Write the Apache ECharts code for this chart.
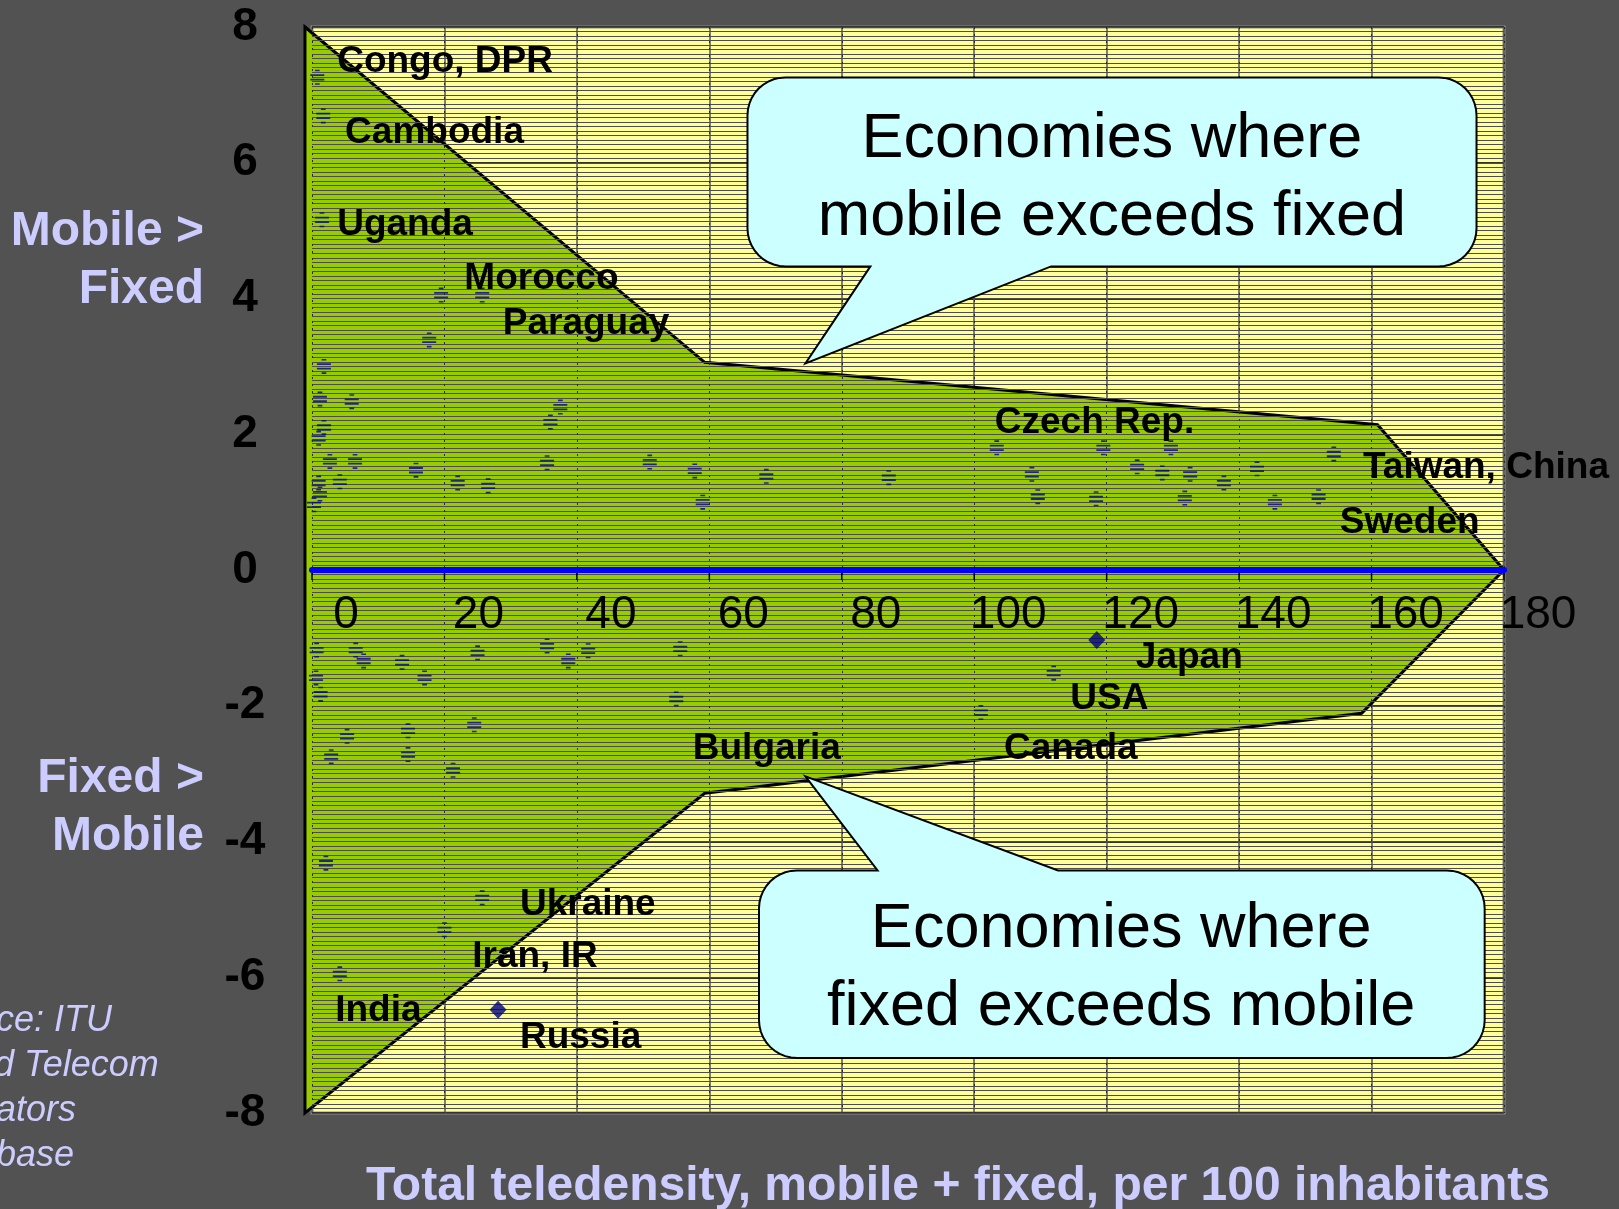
<!DOCTYPE html>
<html><head><meta charset="utf-8">
<script src="https://cdn.jsdelivr.net/npm/echarts@6/dist/echarts.min.js"></script>
<style>html,body{margin:0;padding:0;background:#525252;} #c{width:1619px;height:1209px;}</style>
</head><body><div id="c"></div>
<script>
// ---------- data ----------
const xTicks = [0, 20, 40, 60, 80, 100, 120, 140, 160, 180];
const yTicks = [-8, -6, -4, -2, 0, 2, 4, 6, 8];
// boundary of the shaded zone (x = total teledensity, y = mobile/fixed gap)
const upperEdge = [[-1.06, 8], [59.3, 3.06], [160.9, 2.14], [180, 0]];
const lowerEdge = [[158.5, -2.11], [59.3, -3.29], [-1.06, -8]];
// economies (small markers)
const economiesUpper = [[0.8,7.26],[1.7,6.69],[1.5,5.16],[19.5,4.05],[25.7,4.05],[17.7,3.39],[1.8,3.0],[1.2,2.52],[6.0,2.48],[37.5,2.4],[36.0,2.18],[1.8,2.1],[1.0,1.94],[2.7,1.6],[6.5,1.6],[15.7,1.47],[35.5,1.58],[51.0,1.59],[57.8,1.46],[1.0,1.28],[4.2,1.3],[22.0,1.28],[26.6,1.24],[1.2,1.12],[0.3,0.96],[59.0,1.0],[68.6,1.38],[87.1,1.36],[103.4,1.8],[108.7,1.41],[109.6,1.08],[119.5,1.8],[118.4,1.05],[124.6,1.52],[129.7,1.8],[128.4,1.43],[132.6,1.41],[137.7,1.28],[131.8,1.06],[142.7,1.49],[145.4,1.0],[154.3,1.71],[152.0,1.08]];
const economiesLower = [[0.7,-1.18],[6.6,-1.18],[7.8,-1.34],[13.6,-1.36],[25.0,-1.22],[35.5,-1.12],[38.7,-1.34],[41.7,-1.19],[55.6,-1.16],[0.6,-1.59],[17.0,-1.59],[1.3,-1.83],[55.0,-1.9],[24.5,-2.28],[5.3,-2.45],[14.5,-2.37],[2.9,-2.75],[14.5,-2.72],[21.3,-2.95],[2.1,-4.32],[25.7,-4.83],[20.0,-5.3],[4.2,-5.95],[112.0,-1.52],[101.0,-2.1]];
// highlighted economies (Japan, Russia)
const highlighted = [[118.5, -1.03], [28.1, -6.48]];
// country names and anchor (left edge, middle)
const labelNames = ['Congo, DPR','Cambodia','Uganda','Morocco','Paraguay','Czech Rep.','Taiwan, China','Sweden','Japan','USA','Bulgaria','Canada','Ukraine','Iran, IR','India','Russia'];
const labelX = [3.8, 5.0, 3.8, 23.0, 28.8, 103.1, 158.7, 155.2, 124.4, 114.5, 57.5, 104.5, 31.4, 24.2, 3.5, 31.4];
const labelY = [7.53, 6.48, 5.13, 4.33, 3.67, 2.21, 1.55, 0.74, -1.25, -1.86, -2.59, -2.59, -4.89, -5.66, -6.45, -6.85];
// callouts
const calloutText = ['Economies where\nmobile exceeds fixed', 'Economies where\nfixed exceeds mobile'];
const calloutBox = [[65.76, 175.85, 4.473, 7.257], [67.5, 177.08, -7.19, -4.426]]; // x0,x1,y0,y1
const calloutTail = [[84.32, 111.6, 74.51, 3.044], [85.41, 112.65, 74.51, -3.041]]; // base x0, base x1, tip x, tip y
const calloutCenter = [[120.8, 5.76], [122.2, -5.87]];

const FONT = '"Liberation Sans", Arial, sans-serif';
const LAV = '#CCCCFF';

const chart = echarts.init(document.getElementById('c'), null, {renderer: 'canvas'});

function bubble(params, api) {
  const i = params.dataIndex;
  const b = calloutBox[i], t = calloutTail[i];
  const tl = api.coord([b[0], b[3]]), br = api.coord([b[1], b[2]]);
  const L = tl[0], T = tl[1], R = br[0], B = br[1];
  const r = 38;
  const tb0 = api.coord([t[0], 0])[0], tb1 = api.coord([t[1], 0])[0];
  const tip = api.coord([t[2], t[3]]);
  const tipBelow = tip[1] > B;
  const pts = [];
  function arc(cx, cy, a0, a1) {
    for (let k = 0; k <= 10; k++) { const a = a0 + (a1 - a0) * k / 10; pts.push([cx + r * Math.cos(a), cy + r * Math.sin(a)]); }
  }
  arc(L + r, T + r, Math.PI, 1.5 * Math.PI);
  if (!tipBelow) { pts.push([tb0, T]); pts.push(tip); pts.push([tb1, T]); }
  arc(R - r, T + r, 1.5 * Math.PI, 2 * Math.PI);
  arc(R - r, B - r, 0, 0.5 * Math.PI);
  if (tipBelow) { pts.push([tb1, B]); pts.push(tip); pts.push([tb0, B]); }
  arc(L + r, B - r, 0.5 * Math.PI, Math.PI);
  const c = api.coord(calloutCenter[i]);
  return {
    type: 'group',
    children: [
      {type: 'polygon', shape: {points: pts}, style: {fill: '#CCFFFF', stroke: '#000', lineWidth: 2}},
      {type: 'text', x: c[0], y: c[1], style: {text: calloutText[i], fontSize: 63, fontFamily: FONT, fill: '#000', align: 'center', verticalAlign: 'middle', lineHeight: 78}}
    ]
  };
}

const option = {
  backgroundColor: '#525252',
  animation: false,
  grid: {left: 312, right: 115, top: 27, bottom: 96, show: true, backgroundColor: '#FFFF99', borderColor: '#8a8a8a', borderWidth: 3, containLabel: false, outerBoundsMode: 'none'},
  xAxis: [
    {type: 'value', min: xTicks[0], max: xTicks[xTicks.length - 1], interval: 20, position: 'top', z: 0,
      axisLine: {show: false, onZero: false}, axisTick: {show: false}, axisLabel: {show: false},
      splitLine: {show: true, lineStyle: {color: '#555', width: 1.5}}},
    {type: 'value', min: xTicks[0], max: xTicks[xTicks.length - 1], interval: 20, position: 'bottom', z: 6,
      axisLine: {show: true, onZero: true, lineStyle: {color: '#0000FF', width: 6}},
      axisTick: {show: false}, axisLabel: {show: false},
      splitLine: {show: true, lineStyle: {color: '#2a2a2a', width: 1, type: [2, 5]}}}
  ],
  yAxis: [
    {type: 'value', min: yTicks[0], max: yTicks[yTicks.length - 1], interval: 2, position: 'left', z: 0,
      axisLine: {show: false, onZero: false}, axisTick: {show: false},
      axisLabel: {color: '#000', fontSize: 46, fontWeight: 'bold', fontFamily: FONT, margin: 67, align: 'center'},
      splitLine: {show: true, lineStyle: {color: '#333', width: 2}}},
    {type: 'value', min: yTicks[0], max: yTicks[yTicks.length - 1], interval: 2, position: 'right', z: 4,
      axisLine: {show: false, onZero: false}, axisTick: {show: false}, axisLabel: {show: false},
      splitLine: {show: true, lineStyle: {color: '#4d4d4d', width: 1}},
      minorTick: {show: false, splitNumber: 30},
      minorSplitLine: {show: true, lineStyle: {color: '#4d4d4d', width: 1}}}
  ],
  series: [
    {type: 'custom', name: 'zone', z: 2, silent: true, xAxisIndex: 0, yAxisIndex: 0, clip: false,
      data: [[0, 0]],
      renderItem: function (params, api) {
        const pts = upperEdge.concat(lowerEdge).map(p => api.coord(p));
        return {type: 'polygon', shape: {points: pts}, style: {fill: '#99CC00', stroke: '#000', lineWidth: 3}};
      }},
    {type: 'scatter', name: 'economies', z: 5, silent: true, xAxisIndex: 0, yAxisIndex: 0,
      symbol: 'path://M22,44h136v18h-136z M22,89h136v18h-136z M67,0h46v16h-46z M67,134h46v16h-46z',
      symbolSize: [14, 15], itemStyle: {color: '#00009a'},
      data: economiesUpper.concat(economiesLower)},
    {type: 'custom', name: 'xTickLabels', z: 7, silent: true, xAxisIndex: 0, yAxisIndex: 0, clip: false,
      data: xTicks.map(v => [v, 0]),
      renderItem: function (params, api) {
        const p = api.coord([api.value(0), api.value(1)]);
        return {type: 'group', children: [
          {type: 'line', shape: {x1: p[0], y1: p[1] + 3, x2: p[0], y2: p[1] + 10}, style: {stroke: '#000', lineWidth: 1.5}},
          {type: 'text', x: p[0] + 34, y: p[1] + 45, style: {text: String(xTicks[params.dataIndex]), fontSize: 46, fontFamily: FONT, fill: '#000', align: 'center', verticalAlign: 'middle'}}
        ]};
      }},
    {type: 'scatter', name: 'highlighted', z: 7, silent: true, xAxisIndex: 0, yAxisIndex: 0,
      symbol: 'diamond', symbolSize: [17, 18], itemStyle: {color: '#000080'}, data: highlighted},
    {type: 'custom', name: 'labels', z: 8, silent: true, xAxisIndex: 0, yAxisIndex: 0, clip: false,
      data: labelX.map((x, i) => [x, labelY[i]]),
      renderItem: function (params, api) {
        const p = api.coord([api.value(0), api.value(1)]);
        return {type: 'text', x: p[0], y: p[1] + 3, style: {text: labelNames[params.dataIndex], fontSize: 37, fontWeight: 'bold', fontFamily: FONT, fill: '#000', align: 'left', verticalAlign: 'middle'}};
      }},
    {type: 'custom', name: 'callouts', z: 9, silent: true, xAxisIndex: 0, yAxisIndex: 0, clip: false,
      data: calloutCenter.map(c => [c[0], c[1]]),
      renderItem: bubble}
  ],
  graphic: [
    {type: 'text', x: 204, y: 261, silent: true, style: {text: 'Mobile >\nFixed', fontSize: 48, fontWeight: 'bold', fontFamily: FONT, fill: LAV, align: 'right', verticalAlign: 'middle', lineHeight: 58}},
    {type: 'text', x: 204, y: 808, silent: true, style: {text: 'Fixed >\nMobile', fontSize: 48, fontWeight: 'bold', fontFamily: FONT, fill: LAV, align: 'right', verticalAlign: 'middle', lineHeight: 58}},
    {type: 'text', x: -80, y: 1088, silent: true, style: {text: 'Source: ITU\nWorld Telecom\nIndicators\nDatabase', fontSize: 36, fontStyle: 'italic', fontFamily: FONT, fill: LAV, align: 'left', verticalAlign: 'middle', lineHeight: 45}},
    {type: 'text', x: 958, y: 1187, silent: true, style: {text: 'Total teledensity, mobile + fixed, per 100 inhabitants', fontSize: 48, fontWeight: 'bold', fontFamily: FONT, fill: LAV, align: 'center', verticalAlign: 'middle'}}
  ]
};
chart.setOption(option);
</script>
</body></html>
